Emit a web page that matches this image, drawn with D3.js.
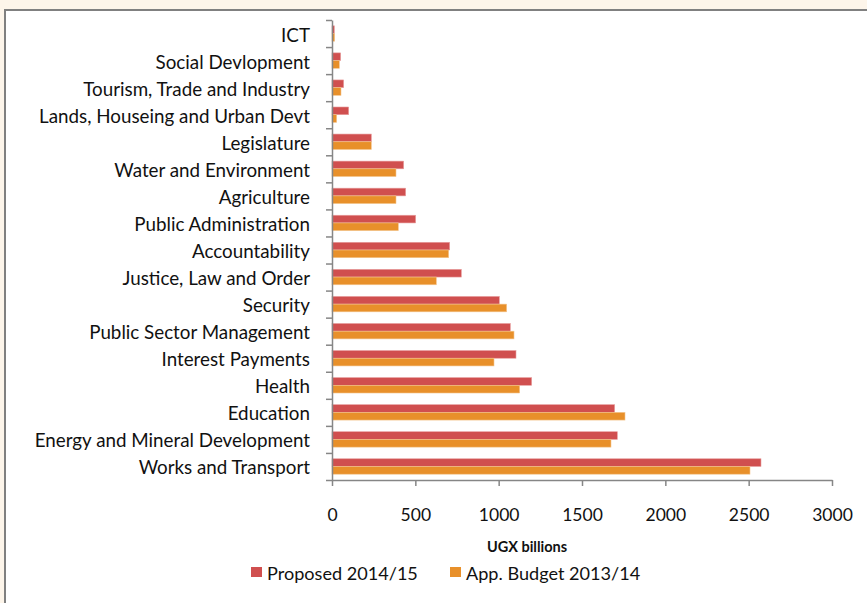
<!DOCTYPE html>
<html>
<head>
<meta charset="utf-8">
<script src="https://cdn.jsdelivr.net/npm/d3@7"></script>
<style>
  html, body { margin: 0; padding: 0; background: #fdf5ea; }
  svg { display: block; }
  text { font-family: Lato, "Open Sans", sans-serif; fill: #111; }
</style>
</head>
<body>
<svg id="chart" width="867" height="603"></svg>
<script>
// Sectors, listed top to bottom
const categories = [
  "ICT", "Social Devlopment", "Tourism, Trade and Industry",
  "Lands, Houseing and Urban Devt", "Legislature", "Water and Environment",
  "Agriculture", "Public Administration", "Accountability",
  "Justice, Law and Order", "Security", "Public Sector Management",
  "Interest Payments", "Health", "Education",
  "Energy and Mineral Development", "Works and Transport"
];
// UGX billions
const proposed1415 = [14, 52, 70, 100, 236, 430, 442, 502, 706, 776, 1004, 1070, 1104, 1198, 1696, 1712, 2574];
const approved1314 = [16, 44, 54, 28, 236, 384, 384, 398, 700, 626, 1048, 1092, 972, 1126, 1758, 1674, 2508];
const seriesNames = ["Proposed 2014/15", "App. Budget 2013/14"];
const seriesColors = ["#d04f4f", "#e8902a"];
const xTicks = [0, 500, 1000, 1500, 2000, 2500, 3000];
const axisTitle = "UGX billions";

const svg = d3.select("#chart");

// white panel with a grey frame
svg.append("rect")
  .attr("x", 5).attr("y", 10).attr("width", 870).attr("height", 600)
  .attr("fill", "#fff").attr("stroke", "#808080").attr("stroke-width", 2);

const plotLeft = 332, plotRight = 832, plotTop = 20, plotBottom = 480;

const x = d3.scaleLinear().domain([0, 3000]).range([plotLeft, plotRight]);
const y0 = d3.scaleBand().domain(categories).range([plotTop, plotBottom])
  .paddingInner(0.43).paddingOuter(0.215);
const y1 = d3.scaleBand().domain(seriesNames).range([0, y0.bandwidth()]);
const yEdges = d3.scaleLinear().domain([0, categories.length]).range([plotTop, plotBottom]);

const rows = categories.map((c, i) => ({ cat: c, vals: [proposed1415[i], approved1314[i]] }));

// bars
const g = svg.append("g");
rows.forEach(r => {
  r.vals.forEach((v, k) => {
    g.append("rect")
      .attr("x", x(0))
      .attr("y", y0(r.cat) + y1(seriesNames[k]))
      .attr("width", x(v) - x(0))
      .attr("height", y1.bandwidth())
      .attr("fill", seriesColors[k])
      .attr("stroke", k === 0 ? "#e8a0a0" : "#f3c690")
      .attr("stroke-width", 0.6);
  });
});

// y axis: ticks on the category boundaries
const yAxis = svg.append("g")
  .attr("transform", `translate(${plotLeft},0)`)
  .call(d3.axisLeft(yEdges).tickValues(d3.range(categories.length + 1))
    .tickFormat("").tickSize(6).tickSizeOuter(0));
yAxis.select(".domain").attr("stroke", "#868686").attr("stroke-width", 1.5);
yAxis.selectAll(".tick line").attr("stroke", "#868686").attr("stroke-width", 1.5);

// category labels
svg.append("g").selectAll("text").data(categories).join("text")
  .attr("x", 310)
  .attr("y", d => y0(d) + y0.bandwidth() / 2 + 8)
  .attr("text-anchor", "end")
  .style("font-size", "18.8px")
  .text(d => d);

// x axis
const xAxis = svg.append("g")
  .attr("transform", `translate(0,${plotBottom})`)
  .call(d3.axisBottom(x).tickValues(xTicks).tickFormat(d3.format("d"))
    .tickSize(6).tickSizeOuter(0).tickPadding(23));
xAxis.select(".domain").attr("stroke", "#868686").attr("stroke-width", 1.5);
xAxis.selectAll(".tick line").attr("stroke", "#868686").attr("stroke-width", 1.5);
xAxis.selectAll(".tick text")
  .style("font-size", "17.5px").style("font-family", "Lato, sans-serif")
  .attr("fill", "#111");

// axis title
svg.append("text")
  .attr("x", 527).attr("y", 552)
  .attr("text-anchor", "middle")
  .style("font-size", "14.5px").style("font-weight", "bold")
  .text(axisTitle);

// legend
const legendX = [251, 450];
seriesNames.forEach((name, k) => {
  svg.append("rect")
    .attr("x", legendX[k]).attr("y", 567)
    .attr("width", 11).attr("height", 10)
    .attr("fill", seriesColors[k]);
  svg.append("text")
    .attr("x", legendX[k] + 16).attr("y", 580)
    .style("font-size", "18.1px")
    .text(name);
});
</script>
</body>
</html>
